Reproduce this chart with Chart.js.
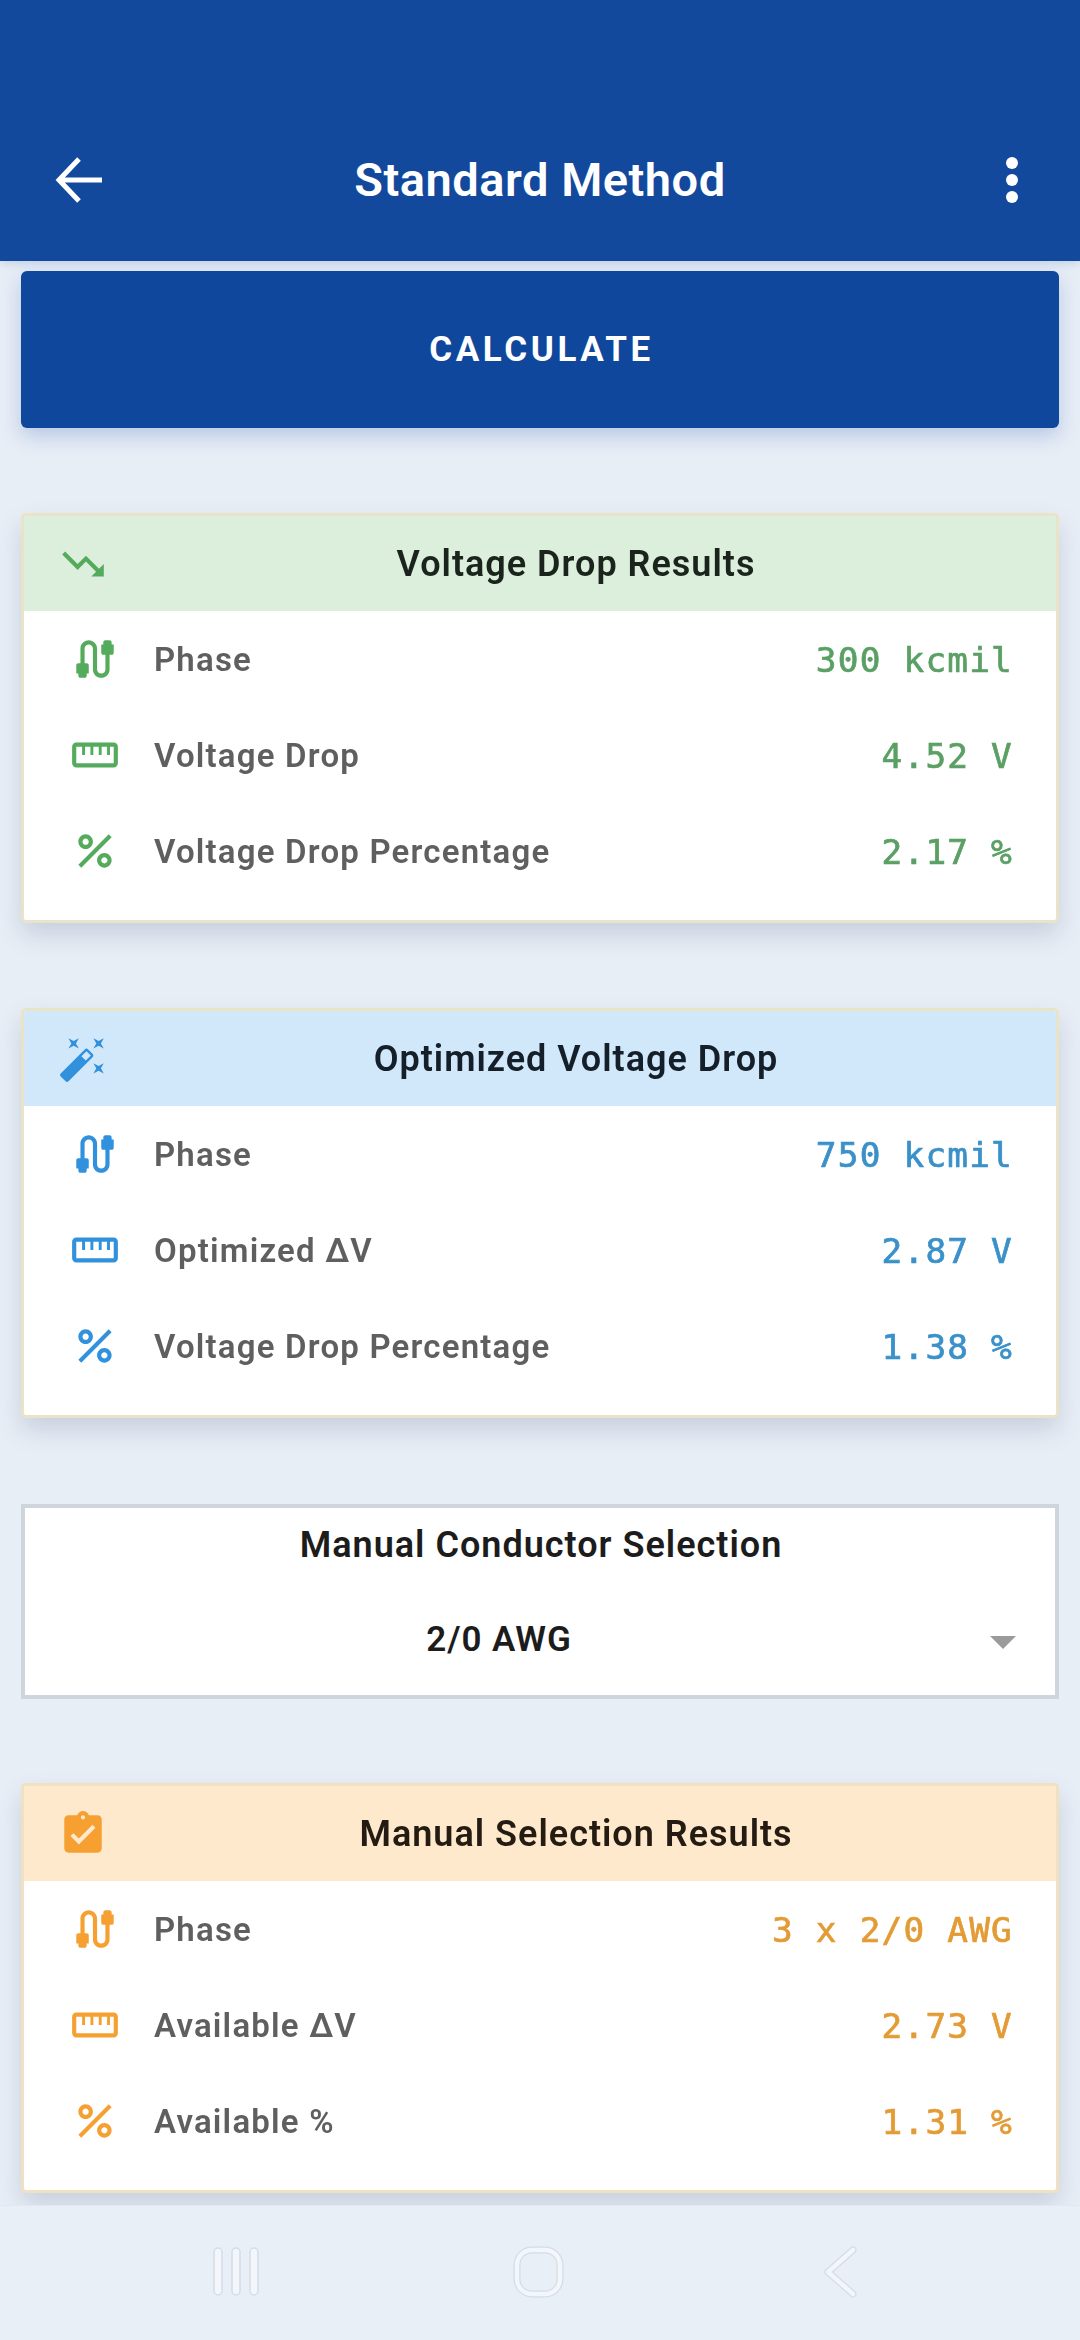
<!DOCTYPE html>
<html>
<head>
<meta charset="utf-8">
<title>Standard Method</title>
<script src="https://cdn.jsdelivr.net/npm/chart.js@4"></script>
<style>
html,body{margin:0;padding:0;}
body{width:1080px;height:2340px;position:relative;overflow:hidden;background:#e8eef6;font-family:Roboto,sans-serif;}
.bar{position:absolute;left:0;top:0;width:1080px;height:261px;background:#13499d;box-shadow:0 3px 8px rgba(90,130,200,.25);}
.title{position:absolute;left:0;width:1080px;top:150px;line-height:60px;text-align:center;color:#fff;font-size:47px;font-weight:600;letter-spacing:.5px;}
.btn{position:absolute;left:21px;top:271px;width:1038px;height:157px;background:#0f479d;border-radius:6px;color:#fff;text-align:center;line-height:158px;font-size:35px;font-weight:700;letter-spacing:3.6px;text-indent:3px;box-shadow:0 8px 20px rgba(70,110,190,.3);}
.card{position:absolute;left:21px;width:1032px;height:404px;border:3px solid #e9e4c8;border-radius:5px;background:#fff;box-shadow:0 12px 24px rgba(70,90,130,.2);overflow:hidden;}
.card canvas{display:block;}
.pick{position:absolute;left:21px;top:1504px;width:1030px;height:187px;border:4px solid #cfd5dd;background:#fff;color:#1c1c1c;font-weight:600;font-size:35px;letter-spacing:.9px;}
.pick div{position:absolute;text-align:center;line-height:44px;}
.nav{position:absolute;left:0;top:2205px;width:1080px;height:135px;background:#e9eff6;border-top:1px solid #e2e8f1;box-sizing:border-box;}
svg.over{position:absolute;left:0;top:0;}
</style>
</head>
<body>
<div class="bar"></div>
<div class="title">Standard Method</div>
<div class="btn">CALCULATE</div>

<div class="card" style="top:513px"><canvas id="cardGreen" width="1032" height="404"></canvas></div>
<div class="card" style="top:1008px"><canvas id="cardBlue" width="1032" height="404"></canvas></div>
<div class="card" style="top:1783px;border-color:#f0e1c2"><canvas id="cardOrange" width="1032" height="404"></canvas></div>

<div class="pick">
<div style="left:1px;width:1030px;top:15px;font-size:36px;letter-spacing:1px">Manual Conductor Selection</div>
<div style="left:0;width:948px;top:110px">2/0 AWG</div>
</div>

<div class="nav"></div>

<svg class="over" width="1080" height="2340">
<path d="M102 180H60M79 159L59 180L79 201" fill="none" stroke="#fff" stroke-width="5" stroke-linejoin="miter"/>
<circle cx="1012" cy="163" r="6" fill="#fff"/><circle cx="1012" cy="180" r="6" fill="#fff"/><circle cx="1012" cy="197" r="6" fill="#fff"/>
<path d="M990 1636H1016L1003 1649Z" fill="#9b9b9b"/>
<g fill="#f3f6fa" stroke="#d6dce5" stroke-width="1.5">
<rect x="214" y="2248" width="8" height="47" rx="4"/><rect x="232" y="2248" width="8" height="47" rx="4"/><rect x="250" y="2248" width="8" height="47" rx="4"/>
</g>
<rect x="517" y="2250" width="43" height="44" rx="15" fill="none" stroke="#d6dce5" stroke-width="7"/>
<rect x="517" y="2250" width="43" height="44" rx="15" fill="none" stroke="#f3f6fa" stroke-width="4.5"/>
<path d="M853 2250L828 2272L853 2294" fill="none" stroke="#d6dce5" stroke-width="7" stroke-linecap="round" stroke-linejoin="round"/>
<path d="M853 2250L828 2272L853 2294" fill="none" stroke="#f3f6fa" stroke-width="4.5" stroke-linecap="round" stroke-linejoin="round"/>
</svg>

<script>
// card texts
var greenTitle = "Voltage Drop Results";
var greenLabels = ["Phase", "Voltage Drop", "Voltage Drop Percentage"];
var greenValues = ["300 kcmil", "4.52 V", "2.17 %"];

var blueTitle = "Optimized Voltage Drop";
var blueLabels = ["Phase", "Optimized \u0394V", "Voltage Drop Percentage"];
var blueValues = ["750 kcmil", "2.87 V", "1.38 %"];

var orangeTitle = "Manual Selection Results";
var orangeLabels = ["Phase", "Available \u0394V", "Available %"];
var orangeValues = ["3 x 2/0 AWG", "2.73 V", "1.31 %"];

// material icons, 24 unit box
var trendIcon = "M16 18l2.29-2.29-4.88-4.88-4 4L2 7.41 3.41 6l6 6 4-4 6.3 6.29L22 12v6z";
var wandIcon = "M7.5 5.6L10 7 8.6 4.5 10 2 7.5 3.4 5 2l1.4 2.5L5 7zm12 9.8L17 14l1.4 2.5L17 19l2.5-1.4L22 19l-1.4-2.5L22 14zM22 2l-2.5 1.4L17 2l1.4 2.5L17 7l2.5-1.4L22 7l-1.4-2.5zm-7.63 5.29c-.39-.39-1.02-.39-1.41 0L1.29 18.96c-.39.39-.39 1.02 0 1.41l2.34 2.34c.39.39 1.02.39 1.41 0L16.7 11.05c.39-.39.39-1.02 0-1.41l-2.33-2.35zm-1.03 5.49l-2.12-2.12 2.44-2.44 2.12 2.12-2.44 2.44z";
var clipIcon = "M19 3h-4.18C14.4 1.84 13.3 1 12 1c-1.3 0-2.4.84-2.82 2H5c-1.1 0-2 .9-2 2v14c0 1.1.9 2 2 2h14c1.1 0 2-.9 2-2V5c0-1.1-.9-2-2-2zm-7 0c.55 0 1 .45 1 1s-.45 1-1 1-1-.45-1-1 .45-1 1-1zm-2 14l-4-4 1.41-1.41L10 14.17l6.59-6.59L18 9l-8 8z";
var cableIcon = "M20 5V4c0-.55-.45-1-1-1h-2c-.55 0-1 .45-1 1v1h-1v4c0 .55.45 1 1 1h1v7c0 1.1-.9 2-2 2s-2-.9-2-2V7c0-2.21-1.79-4-4-4S5 4.79 5 7v7H4c-.55 0-1 .45-1 1v4h1v1c0 .55.45 1 1 1h2c.55 0 1-.45 1-1v-1h1v-4c0-.55-.45-1-1-1H7V7c0-1.1.9-2 2-2s2 .9 2 2v10c0 2.21 1.79 4 4 4s4-1.79 4-4v-7h1c.55 0 1-.45 1-1V5h-1z";
var rulerIcon = "M21 6H3a2 2 0 0 0-2 2v8a2 2 0 0 0 2 2h18a2 2 0 0 0 2-2V8a2 2 0 0 0-2-2zM3 8V16H21V8H19.2V12H17.8V8H15.2V12H13.8V8H11.2V12H9.8V8H7.2V12H5.8V8z";
var percentIcon = "M7.5 11C9.43 11 11 9.43 11 7.5S9.43 4 7.5 4 4 5.57 4 7.5 5.57 11 7.5 11zm0-5C8.33 6 9 6.67 9 7.5S8.33 9 7.5 9 6 8.33 6 7.5 6.67 6 7.5 6zM4 18.6L18.6 4 20 5.4 5.4 20zM16.5 13c-1.93 0-3.5 1.57-3.5 3.5s1.57 3.5 3.5 3.5 3.5-1.57 3.5-3.5-1.57-3.5-3.5-3.5zm0 5c-.83 0-1.5-.67-1.5-1.5s.67-1.5 1.5-1.5 1.5.67 1.5 1.5-.67 1.5-1.5 1.5z";
var rowIcons = [cableIcon, rulerIcon, percentIcon];

function drawIcon(ctx, path, cx, cy, color){
ctx.save();
ctx.translate(cx, cy);
ctx.scale(2.08, 2.08);
ctx.translate(-12, -12);
ctx.fillStyle = color;
ctx.fill(new Path2D(path), "evenodd");
ctx.restore();
}

// labels must not push the plot area in, the rows fill it exactly
function noTickMargin(scale){
scale.paddingTop = 0;
scale.paddingBottom = 0;
}

/* header band, title and icons of a card */
var cardPlugin = {
id: "card",
beforeDraw: function(chart, args, o){
var ctx = chart.ctx;
ctx.save();
ctx.fillStyle = o.band;
ctx.fillRect(0, 0, chart.width, chart.chartArea.top);
ctx.fillStyle = o.titleColor;
ctx.font = "600 36px Roboto";
ctx.letterSpacing = "1px";
ctx.textAlign = "center";
ctx.textBaseline = "middle";
ctx.fillText(o.title, 552, 51);
ctx.restore();
drawIcon(ctx, o.icon, 59, 48, o.iconColor);
ctx.letterSpacing = "1.2px";
},
afterDraw: function(chart, args, o){
var scale = chart.scales.y;
for(var i=0;i<rowIcons.length;i++){
drawIcon(chart.ctx, rowIcons[i], 71, scale.getPixelForTick(i), o.iconColor);
}
}
};

function makeCard(id, labels, values, title, icon, band, titleColor, iconColor, valueColor){
return new Chart(document.getElementById(id), {
type: "bar",
data: { labels: labels, datasets: [] },
plugins: [cardPlugin],
options: {
responsive: false,
animation: false,
devicePixelRatio: 1,
layout: { padding: { top: 95, bottom: 21, left: 130, right: 43 } },
plugins: {
legend: { display: false },
tooltip: { enabled: false },
card: { title: title, icon: icon, band: band, titleColor: titleColor, iconColor: iconColor }
},
scales: {
x: { display: false, type: "linear" },
y: {
type: "category",
position: "left",
offset: true,
labels: labels,
afterFit: noTickMargin,
border: { display: false },
grid: { display: false, drawTicks: false },
ticks: { mirror: true, padding: 0, labelOffset: 4, autoSkip: false, color: "#5f5f5f", font: { family: "Roboto", size: 33, weight: "600" } }
},
yValue: {
type: "category",
position: "right",
offset: true,
labels: values,
afterFit: noTickMargin,
border: { display: false },
grid: { display: false, drawTicks: false },
ticks: { mirror: true, padding: 0, labelOffset: 4, autoSkip: false, color: valueColor, textStrokeColor: valueColor, textStrokeWidth: 0.7, font: { family: "'DejaVu Sans Mono'", size: 34.4 } }
}
}
}
});
}

makeCard("cardGreen", greenLabels, greenValues, greenTitle, trendIcon, "#dcefdc", "#1a241c", "#55ab5c", "#5a9f64");
makeCard("cardBlue", blueLabels, blueValues, blueTitle, wandIcon, "#d1e7fa", "#141f29", "#3191dd", "#3a90c8");
makeCard("cardOrange", orangeLabels, orangeValues, orangeTitle, clipIcon, "#ffe9cc", "#241c12", "#f6a032", "#e39b35");
</script>
</body>
</html>
